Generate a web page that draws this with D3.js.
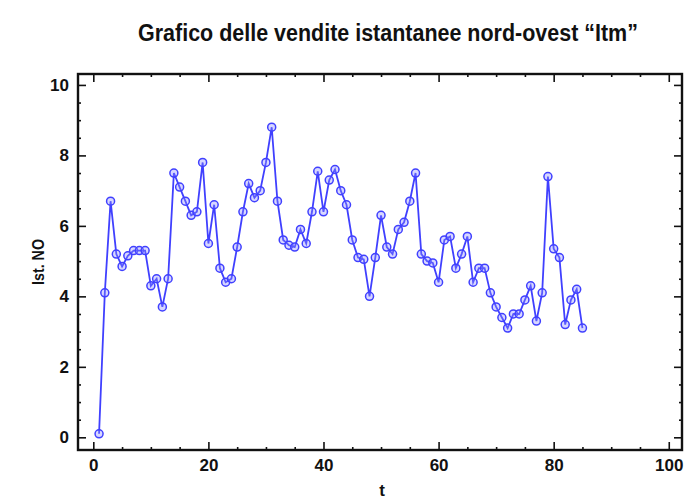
<!DOCTYPE html>
<html>
<head>
<meta charset="utf-8">
<script src="https://cdn.jsdelivr.net/npm/d3@7"></script>
<style>
  html, body { margin: 0; padding: 0; background: #fff; }
  svg { display: block; }
  text { font-family: "Liberation Sans", Arial, sans-serif; font-weight: bold; fill: #111; }
</style>
</head>
<body>
<svg id="chart" width="686" height="500"></svg>
<script>
// Instant sales, north-west area
const tValues = d3.range(1, 86);
const salesNO = [
  0.1, 4.1, 6.7, 5.2, 4.85, 5.15, 5.3, 5.3, 5.3, 4.3,
  4.5, 3.7, 4.5, 7.5, 7.1, 6.7, 6.3, 6.4, 7.8, 5.5,
  6.6, 4.8, 4.4, 4.5, 5.4, 6.4, 7.2, 6.8, 7.0, 7.8,
  8.8, 6.7, 5.6, 5.45, 5.4, 5.9, 5.5, 6.4, 7.55, 6.4,
  7.3, 7.6, 7.0, 6.6, 5.6, 5.1, 5.05, 4.0, 5.1, 6.3,
  5.4, 5.2, 5.9, 6.1, 6.7, 7.5, 5.2, 5.0, 4.95, 4.4,
  5.6, 5.7, 4.8, 5.2, 5.7, 4.4, 4.8, 4.8, 4.1, 3.7,
  3.4, 3.1, 3.5, 3.5, 3.9, 4.3, 3.3, 4.1, 7.4, 5.35,
  5.1, 3.2, 3.9, 4.2, 3.1
];
const xMajorTicks = [0, 20, 40, 60, 80, 100];
const yMajorTicks = [0, 2, 4, 6, 8, 10];
const titleText = "Grafico delle vendite istantanee nord-ovest \u201cItm\u201d";
const xLabel = "t";
const yLabel = "Ist. NO";

const svg = d3.select("#chart");
const frame = { left: 78, right: 682, top: 74, bottom: 450 };

const x = d3.scaleLinear().domain([-2.66, 102.3]).range([frame.left, frame.right]);
const y = d3.scaleLinear().domain([-0.36, 10.31]).range([frame.bottom, frame.top]);

const xMinor = d3.range(0, 101, 5).filter(v => !xMajorTicks.includes(v));
const yMinor = d3.range(0, 10.01, 0.5).filter(v => !yMajorTicks.includes(v));

const lineColor = "#4040ff";

// condensed text: squeeze horizontally to a target width
function condensed(sel, width) {
  const natural = sel.node().getComputedTextLength();
  return natural > 0 ? width / natural : 1;
}

// title, condensed to its column width
const titleG = svg.append("g");
const title = titleG.append("text")
  .attr("text-anchor", "middle")
  .attr("font-size", 24)
  .text(titleText);
titleG.attr("transform", `translate(388,41) scale(${condensed(title, 500)},1)`);

// axes: major ticks with labels on bottom/left, mirrored ticks on top/right
function styleAxis(g) {
  g.select(".domain").remove();
  g.selectAll(".tick line").attr("stroke", "#111").attr("stroke-width", 1.6);
  g.selectAll(".tick text").attr("font-size", 17).attr("fill", "#111")
    .attr("font-family", "'Liberation Sans', Arial, sans-serif").attr("font-weight", "bold");
}

svg.append("g").attr("transform", `translate(0,${frame.bottom})`)
  .call(d3.axisBottom(x).tickValues(xMajorTicks).tickSize(-8).tickPadding(9))
  .call(styleAxis);
svg.append("g").attr("transform", `translate(0,${frame.bottom})`)
  .call(d3.axisBottom(x).tickValues(xMinor).tickSize(-3).tickFormat(""))
  .call(styleAxis);
svg.append("g").attr("transform", `translate(0,${frame.top})`)
  .call(d3.axisTop(x).tickValues(xMajorTicks).tickSize(-8).tickFormat(""))
  .call(styleAxis);
svg.append("g").attr("transform", `translate(0,${frame.top})`)
  .call(d3.axisTop(x).tickValues(xMinor).tickSize(-3).tickFormat(""))
  .call(styleAxis);

svg.append("g").attr("transform", `translate(${frame.left},0)`)
  .call(d3.axisLeft(y).tickValues(yMajorTicks).tickSize(-8).tickPadding(9))
  .call(styleAxis);
svg.append("g").attr("transform", `translate(${frame.left},0)`)
  .call(d3.axisLeft(y).tickValues(yMinor).tickSize(-3).tickFormat(""))
  .call(styleAxis);
svg.append("g").attr("transform", `translate(${frame.right},0)`)
  .call(d3.axisRight(y).tickValues(yMajorTicks).tickSize(-8).tickFormat(""))
  .call(styleAxis);
svg.append("g").attr("transform", `translate(${frame.right},0)`)
  .call(d3.axisRight(y).tickValues(yMinor).tickSize(-3).tickFormat(""))
  .call(styleAxis);

// plot frame
svg.append("rect")
  .attr("x", frame.left).attr("y", frame.top)
  .attr("width", frame.right - frame.left).attr("height", frame.bottom - frame.top)
  .attr("fill", "none").attr("stroke", "#111").attr("stroke-width", 2.4);

// series line and markers
const pts = tValues.map((t, i) => [t, salesNO[i]]);
svg.append("path")
  .datum(pts)
  .attr("fill", "none")
  .attr("stroke", lineColor)
  .attr("stroke-width", 1.8)
  .attr("d", d3.line().x(d => x(d[0])).y(d => y(d[1])));

svg.append("g").selectAll("circle")
  .data(pts)
  .join("circle")
  .attr("cx", d => x(d[0])).attr("cy", d => y(d[1]))
  .attr("r", 4)
  .attr("fill", "rgba(140,140,255,0.35)")
  .attr("stroke", lineColor)
  .attr("stroke-width", 1.5);

// axis titles
svg.append("text")
  .attr("x", (frame.left + frame.right) / 2 + 2).attr("y", 496)
  .attr("text-anchor", "middle").attr("font-size", 17)
  .text(xLabel);
const yTitleG = svg.append("g");
const yTitle = yTitleG.append("text")
  .attr("text-anchor", "middle").attr("font-size", 16)
  .text(yLabel);
yTitleG.attr("transform", `translate(44,${(frame.top + frame.bottom) / 2}) rotate(-90) scale(${condensed(yTitle, 46)},1)`);
</script>
</body>
</html>
